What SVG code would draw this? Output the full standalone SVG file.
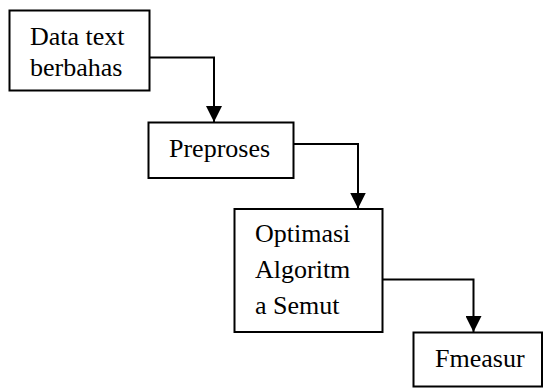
<svg xmlns="http://www.w3.org/2000/svg" width="544" height="388" viewBox="0 0 544 388">
  <style>
    .box { fill: #ffffff; stroke: #000000; stroke-width: 2; }
    .label { font-family: "Liberation Serif", "Times New Roman", serif; font-size: 26px; fill: #000000; }
    .link { fill: none; stroke: #000000; stroke-width: 2; }
  </style>
  <defs>
    <marker id="arrow" viewBox="0 0 16 16" refX="16" refY="8" markerWidth="16" markerHeight="16" markerUnits="userSpaceOnUse" orient="auto">
      <path d="M0,0 L16,8 L0,16 Z" fill="#000000"/>
    </marker>
  </defs>
  <rect width="544" height="388" fill="#ffffff"/>

  <g id="connectors">
    <path class="link" d="M149.5,57.5 H214 V122" marker-end="url(#arrow)"/>
    <path class="link" d="M293,144 H358 V208.5" marker-end="url(#arrow)"/>
    <path class="link" d="M382,279.5 H473.5 V332" marker-end="url(#arrow)"/>
  </g>

  <g id="data-text">
    <rect class="box" x="9.5" y="10.5" width="140" height="80"/>
    <text class="label" x="30" y="45">Data text</text>
    <text class="label" x="30" y="76">berbahas</text>
  </g>

  <g id="preproses">
    <rect class="box" x="148.5" y="122.5" width="145" height="55.5"/>
    <text class="label" x="169" y="157">Preproses</text>
  </g>

  <g id="optimasi">
    <rect class="box" x="234.5" y="209" width="148" height="123"/>
    <text class="label" x="255" y="242">Optimasi</text>
    <text class="label" x="255" y="278">Algoritm</text>
    <text class="label" x="255" y="314">a Semut</text>
  </g>

  <g id="fmeasur">
    <rect class="box" x="413.5" y="332.5" width="128.5" height="54"/>
    <text class="label" x="435" y="366.5">Fmeasur</text>
  </g>
</svg>
